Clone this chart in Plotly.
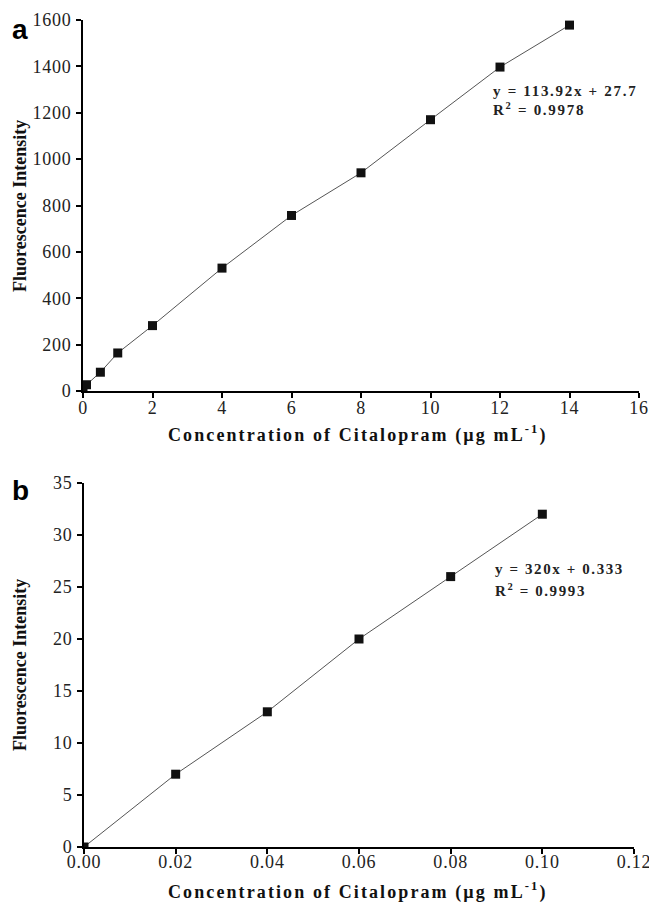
import plotly.graph_objects as go

# Panel a data
conc_a = [0, 0.1, 0.5, 1, 2, 4, 6, 8, 10, 12, 14]
fluor_a = [0, 27, 81, 164, 282, 530, 757, 941, 1170, 1397, 1578]
# Panel b data
conc_b = [0, 0.02, 0.04, 0.06, 0.08, 0.10]
fluor_b = [0, 7, 13, 20, 26, 32]

ticks_a_x = [0, 2, 4, 6, 8, 10, 12, 14, 16]
ticks_a_y = [0, 200, 400, 600, 800, 1000, 1200, 1400, 1600]
ticks_b_x = [0, 0.02, 0.04, 0.06, 0.08, 0.10, 0.12]
ticks_b_y = [0, 5, 10, 15, 20, 25, 30, 35]

# body margin is removed below, so figure pixels = window pixels
OX, OY = 0, 0
W, H = 649, 904
serif = "Liberation Serif"

def px(x):
    return (x - OX) / W

def py(y):
    return 1 - (y - OY) / H

def sp(t, ls=2):
    return f'<span style="letter-spacing:{ls}px">{t}</span>'

fig = go.Figure()
line = dict(color="#555", width=1)
marker = dict(symbol="square", size=9, color="#111")
fig.add_trace(go.Scatter(x=conc_a, y=fluor_a, mode="lines+markers", line=line,
                         marker=marker, xaxis="x", yaxis="y", showlegend=False))
fig.add_trace(go.Scatter(x=conc_b, y=fluor_b, mode="lines+markers", line=line,
                         marker=marker, xaxis="x2", yaxis="y2", showlegend=False))

ax_common = dict(showline=True, linecolor="black", linewidth=2, ticks="outside",
                 ticklen=5, tickwidth=1.5, tickcolor="black", showgrid=False,
                 zeroline=False, tickfont=dict(family=serif, size=18, color="#222"),
                 mirror=False, automargin=False, ticklabeloverflow="allow")
ax_y = dict(ax_common, ticklabelstandoff=1)

fig.update_layout(
    width=W, height=H,
    margin=dict(l=0, r=0, t=0, b=0),
    paper_bgcolor="white", plot_bgcolor="white",
    xaxis=dict(ax_common, ticklabelstandoff=-6, domain=[px(83), px(639)], anchor="y",
               range=[0, 16], tickvals=ticks_a_x,
               ticktext=[sp(str(v), 0.7) for v in ticks_a_x]),
    yaxis=dict(ax_y, domain=[py(391), py(20)], anchor="x", range=[0, 1600],
               tickvals=ticks_a_y, ticktext=[sp(str(v), 0.7) for v in ticks_a_y]),
    xaxis2=dict(ax_common, ticklabelstandoff=-8, domain=[px(84), px(634)], anchor="y2",
                range=[0, 0.12], tickvals=ticks_b_x,
                ticktext=[sp(f"{v:.2f}", 0.8) for v in ticks_b_x]),
    yaxis2=dict(ax_y, domain=[py(847), py(483)], anchor="x2", range=[0, 35],
                tickvals=ticks_b_y, ticktext=[sp(str(v), 0.7) for v in ticks_b_y]),
)

title_x = sp("<b>Concentration of Citalopram (µg mL<sup>-1</sup>)</b>", 2.1)
title_y = "<b>Fluorescence Intensity</b>"
tfont = dict(family=serif, size=18, color="#111")
for yc in (434, 891):
    fig.add_annotation(xref="paper", yref="paper", x=px(358), y=py(yc), xanchor="center",
                       yanchor="middle", text=title_x, showarrow=False, font=tfont)
for yc in (206, 665):
    fig.add_annotation(xref="paper", yref="paper", x=px(20), y=py(yc), xanchor="center",
                       yanchor="middle", text=title_y, showarrow=False, font=tfont,
                       textangle=-90)

ann_font = dict(family=serif, size=15, color="#222")
fig.add_annotation(xref="x", yref="y", x=11.75, y=1292, xanchor="left", yanchor="middle",
                   text=sp("<b>y = 113.92x + 27.7</b>", 1.7), showarrow=False, font=ann_font)
fig.add_annotation(xref="x", yref="y", x=11.75, y=1215, xanchor="left", yanchor="middle",
                   text=sp("<b>R<sup>2</sup> = 0.9978</b>", 1.7), showarrow=False, font=ann_font)
fig.add_annotation(xref="x2", yref="y2", x=0.0892, y=26.7, xanchor="left", yanchor="middle",
                   text=sp("<b>y = 320x + 0.333</b>", 1.6), showarrow=False, font=ann_font)
fig.add_annotation(xref="x2", yref="y2", x=0.0892, y=24.7, xanchor="left", yanchor="middle",
                   text=sp("<b>R<sup>2</sup> = 0.9993</b>", 1.6), showarrow=False, font=ann_font)

lab_font = dict(family="Liberation Sans", size=28, color="black")
fig.add_annotation(xref="paper", yref="paper", x=px(10), y=py(30), xanchor="left", yanchor="middle",
                   text="<b>a</b>", showarrow=False, font=lab_font)
fig.add_annotation(xref="paper", yref="paper", x=px(10), y=py(490), xanchor="left", yanchor="middle",
                   text="<b>b</b>", showarrow=False, font=lab_font)

fig.write_html("out.html", config={"displayModeBar": False},
               post_script="document.body.style.margin='0';document.body.style.overflow='hidden';")
